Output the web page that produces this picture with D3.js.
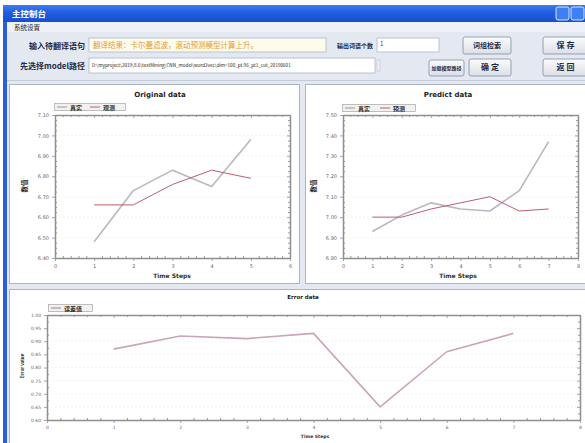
<!DOCTYPE html>
<html><head><meta charset="utf-8">
<script src="https://cdn.jsdelivr.net/npm/d3@7"></script>
<style>
html,body{margin:0;padding:0;background:#fff;overflow:hidden;}
svg{display:block;font-family:"Noto Sans CJK SC","DejaVu Sans",sans-serif;}
</style></head><body>
<svg id="app" width="585" height="443"></svg>
<script>
// ---- window texts ----
const windowTitle = "主控制台";
const menuItems = ["系统设置"];
const inputLabel = "输入待翻译语句";
const inputText = "翻译结果：卡尔曼滤波，滚动预测模型计算上升。";
const countLabel = "输出词语个数";
const countValue = "1";
const pathLabel = "先选择model路径";
const pathText = "D:\\myproject\\2019\\8.6\\textMining\\CNN_model\\word2vec\\dim=100_pt.96_pt1_cut_20190601";
const buttonLabels = ["词组检索", "保 存", "加载模型路径", "确 定", "返 回"];

// ---- chart 1: original data ----
const origSteps = [1, 2, 3, 4, 5];
const origObserved = [6.48, 6.73, 6.83, 6.75, 6.98];
const origFiltered = [6.66, 6.66, 6.76, 6.83, 6.79];
const origYTicks = [6.40, 6.50, 6.60, 6.70, 6.80, 6.90, 7.00, 7.10];
const origXTicks = [0, 1, 2, 3, 4, 5, 6];

// ---- chart 2: predicted data ----
const predSteps = [1, 2, 3, 4, 5, 6, 7];
const predObserved = [6.93, 7.01, 7.07, 7.04, 7.03, 7.13, 7.37];
const predFiltered = [7.00, 7.00, 7.04, 7.07, 7.10, 7.03, 7.04];
const predYTicks = [6.80, 6.90, 7.00, 7.10, 7.20, 7.30, 7.40, 7.50];
const predXTicks = [0, 1, 2, 3, 4, 5, 6, 7, 8];

// ---- chart 3: error data ----
const errSteps = [1, 2, 3, 4, 5, 6, 7];
const errValues = [0.87, 0.92, 0.91, 0.93, 0.65, 0.86, 0.93];
const errYTicks = [0.60, 0.65, 0.70, 0.75, 0.80, 0.85, 0.90, 0.95, 1.00];
const errXTicks = [0, 1, 2, 3, 4, 5, 6, 7, 8];

const seriesNames = ["真实", "观测", "预测", "误差值"];
const chartTitles = ["Original data", "Predict data", "Error data"];
const xTitle = "Time Steps";
const yTitles = ["数值", "数值", "Error value"];

const svg = d3.select("#app");
const defs = svg.append("defs");

const tg = defs.append("linearGradient").attr("id", "titleGrad").attr("x1", 0).attr("x2", 0).attr("y1", 0).attr("y2", 1);
tg.append("stop").attr("offset", "0%").attr("stop-color", "#3d7cf0");
tg.append("stop").attr("offset", "45%").attr("stop-color", "#1f5fe0");
tg.append("stop").attr("offset", "100%").attr("stop-color", "#1a4fcc");

const bg = defs.append("linearGradient").attr("id", "btnGrad").attr("x1", 0).attr("x2", 0).attr("y1", 0).attr("y2", 1);
bg.append("stop").attr("offset", "0%").attr("stop-color", "#fbfbfb");
bg.append("stop").attr("offset", "100%").attr("stop-color", "#dcdfe6");

// ---- window chrome ----
svg.append("rect").attr("x", 0).attr("y", 0).attr("width", 585).attr("height", 443).attr("fill", "#ffffff");
svg.append("rect").attr("x", 3).attr("y", 5).attr("width", 590).attr("height", 445).attr("fill", "#2c5fd6");
svg.append("rect").attr("x", 3).attr("y", 5).attr("width", 590).attr("height", 17).attr("fill", "url(#titleGrad)");
svg.append("text").attr("x", 12).attr("y", 17).attr("fill", "#fff").attr("font-size", 8.5).attr("font-weight", "bold").text(windowTitle);
// caption buttons
[{x: 556, c: "#3d80f5"}, {x: 571, c: "#3d80f5"}].forEach(b => {
  svg.append("rect").attr("x", b.x).attr("y", 7).attr("width", 13).attr("height", 13).attr("rx", 2)
    .attr("fill", b.c).attr("stroke", "#fff").attr("stroke-width", 0.8);
});

// client area
svg.append("rect").attr("x", 7).attr("y", 22).attr("width", 585).attr("height", 421).attr("fill", "#e4e9f1");
svg.append("rect").attr("x", 7).attr("y", 22).attr("width", 585).attr("height", 10).attr("fill", "#eef1f6");
svg.append("text").attr("x", 14).attr("y", 30).attr("font-size", 6.5).attr("fill", "#222").text(menuItems[0]);

// row 1
svg.append("text").attr("x", 85).attr("y", 48.5).attr("text-anchor", "end").attr("font-size", 8).attr("font-weight", "bold").attr("fill", "#1c2a44").text(inputLabel);
svg.append("rect").attr("x", 89).attr("y", 38).attr("width", 237).attr("height", 14).attr("fill", "#fffbea").attr("stroke", "#b9c3d3");
svg.append("text").attr("x", 93).attr("y", 48).attr("font-size", 7.5).attr("fill", "#e3a037").text(inputText);
svg.append("text").attr("x", 373).attr("y", 48).attr("text-anchor", "end").attr("font-size", 6).attr("font-weight", "bold").attr("fill", "#1c2a44").text(countLabel);
svg.append("rect").attr("x", 377).attr("y", 38).attr("width", 62).attr("height", 14).attr("fill", "#ffffff").attr("stroke", "#b9c3d3");
svg.append("text").attr("x", 380).attr("y", 46).attr("font-size", 6).attr("fill", "#444").text(countValue);

// row 2
svg.append("text").attr("x", 85).attr("y", 68.5).attr("text-anchor", "end").attr("font-size", 8).attr("font-weight", "bold").attr("fill", "#1c2a44").text(pathLabel);
svg.append("rect").attr("x", 89).attr("y", 58).attr("width", 286).attr("height", 15).attr("fill", "#ffffff").attr("stroke", "#b9c3d3");
svg.append("text").attr("x", 92).attr("y", 67).attr("font-size", 4.6).attr("fill", "#222").text(pathText);
svg.append("rect").attr("x", 377).attr("y", 60).attr("width", 3).attr("height", 11).attr("fill", "#eef0f4").attr("stroke", "#bcc4d2").attr("stroke-width", 0.6);

const buttons = [
  {x: 463, y: 37, w: 48, h: 17, t: buttonLabels[0], fs: 7},
  {x: 543, y: 37, w: 45, h: 17, t: buttonLabels[1], fs: 8},
  {x: 429, y: 60, w: 35, h: 16, t: buttonLabels[2], fs: 5},
  {x: 469, y: 59, w: 42, h: 17, t: buttonLabels[3], fs: 8},
  {x: 543, y: 59, w: 45, h: 17, t: buttonLabels[4], fs: 8}
];
buttons.forEach(b => {
  svg.append("rect").attr("x", b.x).attr("y", b.y).attr("width", b.w).attr("height", b.h).attr("rx", 2)
    .attr("fill", "url(#btnGrad)").attr("stroke", "#7f8da6").attr("stroke-width", 0.8);
  svg.append("text").attr("x", b.x + b.w / 2).attr("y", b.y + b.h / 2 + b.fs * 0.36).attr("text-anchor", "middle")
    .attr("font-size", b.fs).attr("font-weight", "bold").attr("fill", "#1c2a44").text(b.t);
});

// separator under toolbar
svg.append("line").attr("x1", 7).attr("x2", 585).attr("y1", 80.5).attr("y2", 80.5).attr("stroke", "#c5ccd8");

// ---- chart panels ----
const panels = [
  {x: 9, y: 84, w: 290, h: 199},
  {x: 305, y: 84, w: 290, h: 199},
  {x: 9, y: 289, w: 585, h: 156}
];
panels.forEach(p => {
  svg.append("rect").attr("x", p.x + 0.5).attr("y", p.y + 0.5).attr("width", p.w).attr("height", p.h)
    .attr("fill", "#ffffff").attr("stroke", "#aab4c4");
});

function minorValues(ticks, n) {
  const out = [];
  for (let i = 0; i < ticks.length - 1; i++) {
    const a = ticks[i], b = ticks[i + 1];
    for (let k = 1; k < n; k++) out.push(a + (b - a) * k / n);
  }
  return out;
}

function drawChart(cfg) {
  const g = svg.append("g");
  const x = d3.scaleLinear().domain([cfg.xTicks[0], cfg.xTicks[cfg.xTicks.length - 1]]).range([cfg.left, cfg.right]);
  const y = d3.scaleLinear().domain([cfg.yTicks[0], cfg.yTicks[cfg.yTicks.length - 1]]).range([cfg.bottom, cfg.top]);

  // faint horizontal grid
  g.append("g").selectAll("line").data(cfg.yTicks.slice(1, -1)).join("line")
    .attr("x1", cfg.left).attr("x2", cfg.right).attr("y1", d => y(d)).attr("y2", d => y(d))
    .attr("stroke", "#eeeeee").attr("stroke-dasharray", "2,2").attr("stroke-width", 0.7);

  const styleAxis = sel => {
    sel.select(".domain").attr("stroke", "#8f8f8f").attr("stroke-width", 1.5);
    sel.selectAll(".tick line").attr("stroke", "#8f8f8f").attr("stroke-width", 0.8);
    sel.selectAll(".tick text").attr("fill", "#666").attr("font-size", cfg.tickFs).attr("font-family", "DejaVu Sans, sans-serif");
  };
  const fmt = d3.format(".2f");

  // minor ticks (inside) on all four sides
  const xm = minorValues(cfg.xTicks, cfg.xMinor), ym = minorValues(cfg.yTicks, cfg.yMinor);
  g.append("g").attr("transform", `translate(0,${cfg.bottom})`).call(d3.axisBottom(x).tickValues(xm).tickSize(-2).tickFormat("")).call(s => s.select(".domain").remove()).selectAll("line").attr("stroke", "#999");
  g.append("g").attr("transform", `translate(0,${cfg.top})`).call(d3.axisTop(x).tickValues(xm).tickSize(-2).tickFormat("")).call(s => s.select(".domain").remove()).selectAll("line").attr("stroke", "#999");
  g.append("g").attr("transform", `translate(${cfg.left},0)`).call(d3.axisLeft(y).tickValues(ym).tickSize(-2).tickFormat("")).call(s => s.select(".domain").remove()).selectAll("line").attr("stroke", "#999");
  g.append("g").attr("transform", `translate(${cfg.right},0)`).call(d3.axisRight(y).tickValues(ym).tickSize(-2).tickFormat("")).call(s => s.select(".domain").remove()).selectAll("line").attr("stroke", "#999");

  // major axes
  g.append("g").attr("transform", `translate(0,${cfg.bottom})`)
    .call(d3.axisBottom(x).tickValues(cfg.xTicks).tickSizeInner(3).tickSizeOuter(0).tickPadding(3).tickFormat(d3.format("d"))).call(styleAxis);
  g.append("g").attr("transform", `translate(${cfg.left},0)`)
    .call(d3.axisLeft(y).tickValues(cfg.yTicks).tickSizeInner(3).tickSizeOuter(0).tickPadding(3).tickFormat(fmt)).call(styleAxis);
  g.append("g").attr("transform", `translate(0,${cfg.top})`)
    .call(d3.axisTop(x).tickValues(cfg.xTicks).tickSizeInner(-3).tickSizeOuter(0).tickFormat("")).call(styleAxis);
  g.append("g").attr("transform", `translate(${cfg.right},0)`)
    .call(d3.axisRight(y).tickValues(cfg.yTicks).tickSizeInner(-3).tickSizeOuter(0).tickFormat("")).call(styleAxis);

  // series
  cfg.series.forEach(s => {
    const pts = s.steps.map((st, i) => ({s: st, v: s.values[i]}));
    g.append("path").datum(pts).attr("fill", "none").attr("stroke", s.color).attr("stroke-width", s.width)
      .attr("stroke-linejoin", "round")
      .attr("d", d3.line().x(d => x(d.s)).y(d => y(d.v)));
  });

  // title
  g.append("text").attr("x", cfg.titleX).attr("y", cfg.titleY).attr("text-anchor", "middle")
    .attr("font-size", cfg.titleFs).attr("font-weight", "bold").attr("fill", "#222")
    .attr("font-family", "DejaVu Sans, sans-serif").text(cfg.title);

  // axis titles
  g.append("text").attr("x", cfg.xTitleX).attr("y", cfg.xTitleY).attr("text-anchor", "middle")
    .attr("font-size", cfg.xTitleFs).attr("font-weight", "bold").attr("fill", "#333")
    .attr("font-family", "DejaVu Sans, sans-serif").text(xTitle);
  g.append("text").attr("transform", `translate(${cfg.yTitleX},${cfg.yTitleY}) rotate(-90)`).attr("text-anchor", "middle")
    .attr("font-size", cfg.yTitleFs).attr("font-weight", "bold").attr("fill", "#222").text(cfg.yTitle);

  // legend
  const lg = g.append("g");
  lg.append("rect").attr("x", cfg.legend.x + 0.5).attr("y", cfg.legend.y + 0.5).attr("width", cfg.legend.w).attr("height", 7)
    .attr("fill", "#f1f1f1").attr("stroke", "#a5a5a5").attr("stroke-width", 0.7);
  let lx = cfg.legend.x + 3;
  cfg.series.forEach(s => {
    lg.append("line").attr("x1", lx).attr("x2", lx + 10).attr("y1", cfg.legend.y + 4).attr("y2", cfg.legend.y + 4)
      .attr("stroke", s.color).attr("stroke-width", s.width);
    lg.append("text").attr("x", lx + 13).attr("y", cfg.legend.y + 6.5).attr("font-size", 6).attr("font-weight", "bold")
      .attr("fill", "#333").text(s.name);
    lx += cfg.legend.step;
  });
}

const greyLine = "#bdb6c0";
const redLine = "#b8606e";

drawChart({
  left: 55, right: 290, top: 115, bottom: 258,
  xTicks: origXTicks, yTicks: origYTicks, xMinor: 5, yMinor: 4, tickFs: 5,
  title: chartTitles[0], titleX: 160, titleY: 97, titleFs: 7,
  xTitleX: 172, xTitleY: 278, xTitleFs: 6,
  yTitle: yTitles[0], yTitleX: 27, yTitleY: 186, yTitleFs: 6.5,
  legend: {x: 54, y: 103, w: 71, step: 33},
  series: [
    {name: seriesNames[0], steps: origSteps, values: origObserved, color: greyLine, width: 1.6},
    {name: seriesNames[1], steps: origSteps, values: origFiltered, color: redLine, width: 1}
  ]
});

drawChart({
  left: 343, right: 578, top: 115, bottom: 258,
  xTicks: predXTicks, yTicks: predYTicks, xMinor: 4, yMinor: 4, tickFs: 5,
  title: chartTitles[1], titleX: 448, titleY: 97, titleFs: 7,
  xTitleX: 458, xTitleY: 278, xTitleFs: 6,
  yTitle: yTitles[1], yTitleX: 316, yTitleY: 186, yTitleFs: 6.5,
  legend: {x: 342, y: 104, w: 73, step: 35},
  series: [
    {name: seriesNames[0], steps: predSteps, values: predObserved, color: greyLine, width: 1.6},
    {name: seriesNames[2], steps: predSteps, values: predFiltered, color: redLine, width: 1}
  ]
});

drawChart({
  left: 47, right: 580, top: 315, bottom: 420,
  xTicks: errXTicks, yTicks: errYTicks, xMinor: 5, yMinor: 2, tickFs: 4.5,
  title: chartTitles[2], titleX: 303, titleY: 299, titleFs: 5.5,
  xTitleX: 315, xTitleY: 438, xTitleFs: 4.5,
  yTitle: yTitles[2], yTitleX: 24, yTitleY: 366, yTitleFs: 4.5,
  legend: {x: 48, y: 304, w: 44, step: 40},
  series: [
    {name: seriesNames[3], steps: errSteps, values: errValues, color: "#c9a7ae", width: 1.6}
  ]
});
</script>
</body></html>
